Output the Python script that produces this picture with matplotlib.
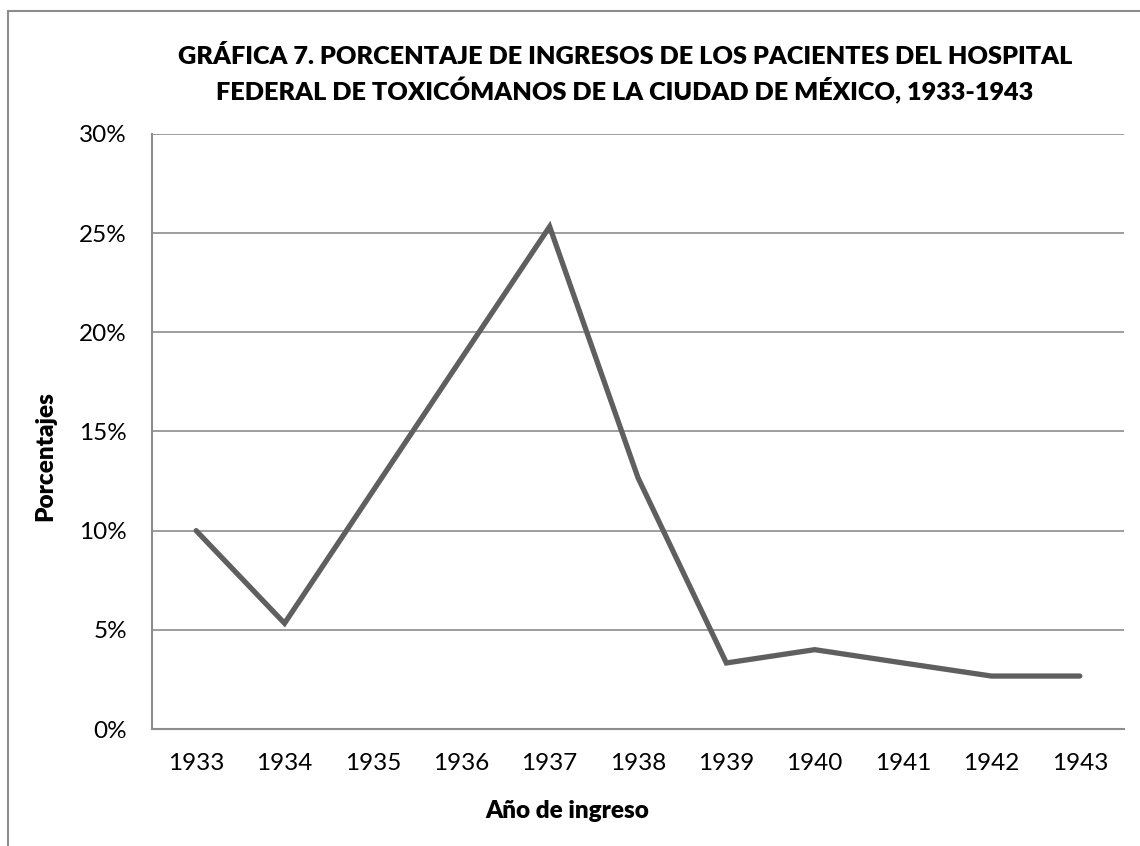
import matplotlib
matplotlib.use("Agg")
import matplotlib.pyplot as plt
from matplotlib.patches import Rectangle
from matplotlib.ticker import FuncFormatter

years = ["1933", "1934", "1935", "1936", "1937", "1938", "1939", "1940", "1941", "1942", "1943"]
percentages = [10.0, 5.33, 12.0, 18.67, 25.33, 12.67, 3.33, 4.0, 3.33, 2.67, 2.67]
yticks = [0, 5, 10, 15, 20, 25, 30]

title_lines = ["GRÁFICA 7. PORCENTAJE DE INGRESOS DE LOS PACIENTES DEL HOSPITAL",
               "FEDERAL DE TOXICÓMANOS DE LA CIUDAD DE MÉXICO, 1933-1943"]

plt.rcParams['font.family'] = ['Lato', 'DejaVu Sans']

W, H = 1140, 846
fig = plt.figure(figsize=(W / 100, H / 100), dpi=100)

# outer chart border (left and top visible)
fig.patches.append(Rectangle((8 / W, -0.1), 1.2, 1 - 11 / H + 0.1, transform=fig.transFigure,
                             fill=False, edgecolor='#8c8c8c', linewidth=1.5))

ax = fig.add_axes([152 / W, 1 - 729 / H, (1124 - 152) / W, (729 - 134) / H])
x = list(range(len(years)))
ax.plot(x, percentages, color='#5f5f5f', linewidth=3.8, solid_joinstyle='miter', solid_capstyle='round')

ax.set_xlim(-0.5, len(years) - 0.5)
ax.set_ylim(0, 30)
ax.set_yticks(yticks)
ax.yaxis.set_major_formatter(FuncFormatter(lambda v, p: f"{int(v)}%"))
ax.set_xticks(x)
ax.set_xticklabels(years)
ax.tick_params(axis='both', length=0, labelsize=17.5, colors='black')
ax.tick_params(axis='y', pad=18)
ax.tick_params(axis='x', pad=17)

ax.grid(axis='y', color='#8c8c8c', linewidth=1.2)
ax.set_axisbelow(True)
for s in ['top', 'right']:
    ax.spines[s].set_visible(False)
for s in ['left', 'bottom']:
    ax.spines[s].set_color('#8c8c8c')
    ax.spines[s].set_linewidth(1.5)

fig.text(625 / W, 1 - 64 / H, title_lines[0], ha='center', va='baseline', fontsize=18.2,
         fontweight='heavy')
fig.text(625 / W, 1 - 100 / H, title_lines[1], ha='center', va='baseline', fontsize=18.2,
         fontweight='heavy')
fig.text(45 / W, 1 - 456 / H, "Porcentajes", rotation=90, ha='center', va='center',
         fontsize=17.5, fontweight='heavy')
fig.text(567 / W, 1 - 818 / H, "Año de ingreso", ha='center', va='baseline',
         fontsize=17.5, fontweight='heavy')

fig.savefig("out.png", dpi=100, facecolor='white')
